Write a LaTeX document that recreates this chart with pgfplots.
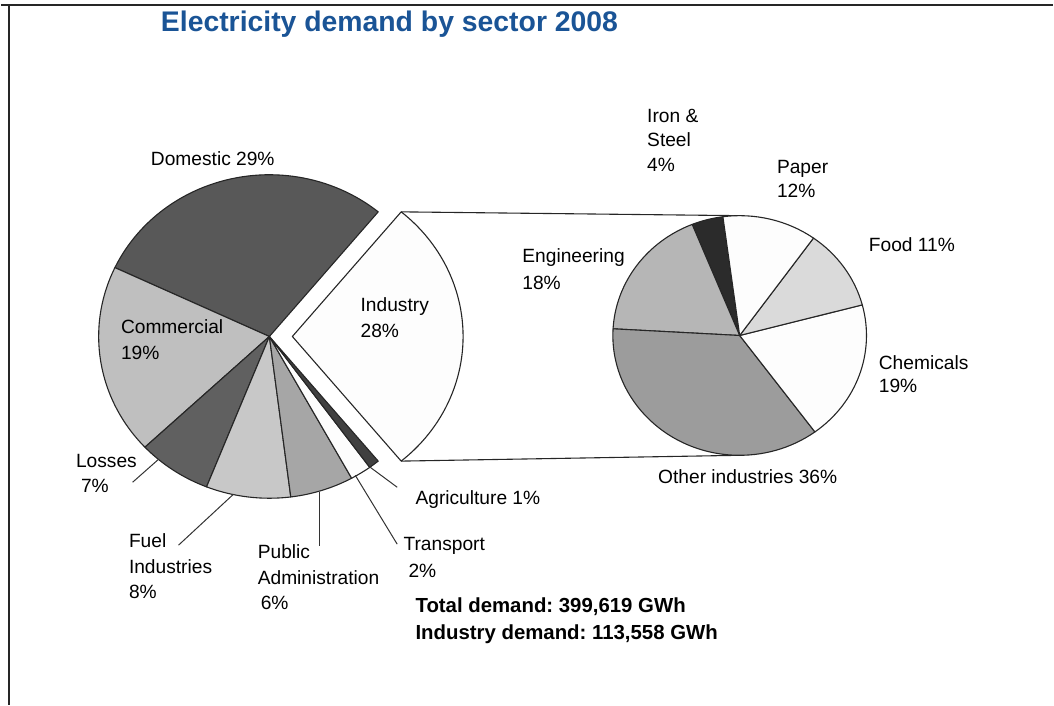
\documentclass[border=0pt]{standalone}
\usepackage{fontspec}
\setmainfont{Liberation Sans}
\usepackage{pgfplots}
\pgfplotsset{compat=1.18}

\definecolor{titleblue}{RGB}{26,84,150}
\definecolor{gDomestic}{HTML}{585858}
\definecolor{gCommercial}{HTML}{BFBFBF}
\definecolor{gLosses}{HTML}{606060}
\definecolor{gFuel}{HTML}{C8C8C8}
\definecolor{gPublic}{HTML}{A6A6A6}
\definecolor{gAgri}{HTML}{404040}
\definecolor{gIron}{HTML}{2B2B2B}
\definecolor{gEng}{HTML}{B6B6B6}
\definecolor{gOther}{HTML}{9C9C9C}
\definecolor{gFood}{HTML}{DADADA}
\definecolor{gWhite}{HTML}{FDFDFD}

% pie slice: centre x, centre y, x radius, y radius, base angle,
% cumulative share before the slice (%), share (%), fill colour
\newcommand{\slice}[8]{%
  \filldraw[fill=#8, draw=black!85, line width=0.55pt, line join=round]
    (axis cs:#1,#2) -- ++({#5+3.6*#6}:#3 and #4)
    arc[start angle={#5+3.6*#6}, delta angle={3.6*#7}, x radius=#3, y radius=#4]
    -- cycle;}

\tikzset{
  lbl/.style={anchor=base west, inner sep=0pt, font=\fontsize{9.6pt}{12pt}\selectfont},
  bold/.style={anchor=base west, inner sep=0pt, font=\fontsize{10.2pt}{13pt}\selectfont\bfseries},
  leader/.style={draw=black!80, line width=0.5pt},
}

\frenchspacing
\begin{document}
\begin{tikzpicture}
\begin{axis}[
  x=0.5pt, y=0.5pt,
  xmin=0, xmax=1054, ymin=0, ymax=706,
  hide axis, clip=false, scale only axis,
]
\path (axis cs:0,0) rectangle (axis cs:1054,706);

% frame
\draw[line width=0.8pt, black!85] (axis cs:0,701) -- (axis cs:1054,701);
\draw[line width=0.8pt, black!85] (axis cs:8,701) -- (axis cs:8,0);

% title
\node[anchor=base west, inner sep=0pt, text=titleblue,
      font=\fontsize{14.2pt}{17pt}\selectfont\bfseries]
  at (axis cs:160,674) {Electricity demand by sector 2008};

% ---- all sectors (base angle: Industry centred on 0 degrees) ----
\slice{292}{369}{85.5pt}{81pt}{-50.4}{0}{28}{gWhite}   % Industry (pulled out)
\slice{269}{369}{85.5pt}{81pt}{-50.4}{28}{29}{gDomestic}
\slice{269}{369}{85.5pt}{81pt}{-50.4}{57}{19}{gCommercial}
\slice{269}{369}{85.5pt}{81pt}{-50.4}{76}{7}{gLosses}
\slice{269}{369}{85.5pt}{81pt}{-50.4}{83}{8}{gFuel}
\slice{269}{369}{85.5pt}{81pt}{-50.4}{91}{6}{gPublic}
\slice{269}{369}{85.5pt}{81pt}{-50.4}{97}{2}{gWhite}   % Transport
\slice{269}{369}{85.5pt}{81pt}{-50.4}{99}{1}{gAgri}

% connectors from Industry to its breakdown
\draw[line width=0.55pt, black!85] (axis cs:292,369) ++(50.4:85.5pt and 81pt) -- (axis cs:740,490);
\draw[line width=0.55pt, black!85] (axis cs:292,369) ++(-50.4:85.5pt and 81pt) -- (axis cs:740,250);

% ---- industry breakdown ----
\slice{740}{370}{63.5pt}{60pt}{97.6}{0}{4}{gIron}
\slice{740}{370}{63.5pt}{60pt}{97.6}{4}{18}{gEng}
\slice{740}{370}{63.5pt}{60pt}{97.6}{22}{36}{gOther}
\slice{740}{370}{63.5pt}{60pt}{97.6}{58}{19}{gWhite}  % Chemicals
\slice{740}{370}{63.5pt}{60pt}{97.6}{77}{11}{gFood}
\slice{740}{370}{63.5pt}{60pt}{97.6}{88}{12}{gWhite}  % Paper

% leader lines
\draw[leader] (axis cs:158,246) -- (axis cs:132,223);  % Losses
\draw[leader] (axis cs:233,211) -- (axis cs:178,160);  % Fuel
\draw[leader] (axis cs:319,213) -- (axis cs:319,159);  % Public
\draw[leader] (axis cs:355,230) -- (axis cs:397,161);  % Transport
\draw[leader] (axis cs:370,238) -- (axis cs:397,218);  % Agriculture

% labels
\node[lbl] at (axis cs:150,540) {Domestic 29\%};
\node[lbl] at (axis cs:120,372) {Commercial};
\node[lbl] at (axis cs:120,346) {19\%};
\node[lbl] at (axis cs:360,394) {Industry};
\node[lbl] at (axis cs:360,368) {28\%};
\node[lbl] at (axis cs:75,238) {Losses};
\node[lbl] at (axis cs:80,213) {7\%};
\node[lbl] at (axis cs:128,158) {Fuel};
\node[lbl] at (axis cs:128,132) {Industries};
\node[lbl] at (axis cs:128,107) {8\%};
\node[lbl] at (axis cs:257,147) {Public};
\node[lbl] at (axis cs:257,121) {Administration};
\node[lbl] at (axis cs:260,96) {6\%};
\node[lbl] at (axis cs:403,155) {Transport};
\node[lbl] at (axis cs:408,128) {2\%};
\node[lbl] at (axis cs:415,201) {Agriculture 1\%};

\node[lbl] at (axis cs:522,443) {Engineering};
\node[lbl] at (axis cs:522,416) {18\%};
\node[lbl] at (axis cs:647,583) {Iron \&};
\node[lbl] at (axis cs:647,559) {Steel};
\node[lbl] at (axis cs:647,534) {4\%};
\node[lbl] at (axis cs:777,532) {Paper};
\node[lbl] at (axis cs:777,508) {12\%};
\node[lbl] at (axis cs:869,454) {Food 11\%};
\node[lbl] at (axis cs:879,336) {Chemicals};
\node[lbl] at (axis cs:879,313) {19\%};
\node[lbl] at (axis cs:658,222) {Other industries 36\%};

\node[bold] at (axis cs:415,93) {Total demand: 399,619 GWh};
\node[bold] at (axis cs:415,66) {Industry demand: 113,558 GWh};
\end{axis}
\end{tikzpicture}
\end{document}
